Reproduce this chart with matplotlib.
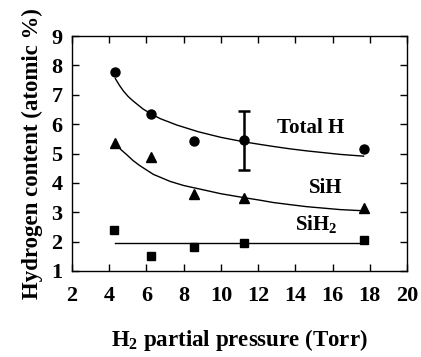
import matplotlib
matplotlib.use("Agg")
import matplotlib.pyplot as plt

plt.rcParams['font.family'] = ['Liberation Serif', 'DejaVu Serif']
plt.rcParams['font.weight'] = 'bold'
plt.rcParams['mathtext.fontset'] = 'custom'
plt.rcParams['mathtext.rm'] = 'Liberation Serif:bold'
plt.rcParams['mathtext.it'] = 'Liberation Serif:bold'

# measured points
p_total = [4.33, 6.25, 8.56, 11.23, 17.66]
total_h = [7.76, 6.36, 5.42, 5.45, 5.16]
total_err = 1.0  # error bar on the 11.2 Torr point

p_sih = [4.33, 6.25, 8.56, 11.23, 17.66]
sih = [5.36, 4.89, 3.63, 3.48, 3.13]

p_sih2 = [4.28, 6.25, 8.56, 11.23, 17.66]
sih2 = [2.39, 1.50, 1.81, 1.96, 2.04]

# fitted curves
fit_total_x = [4.33, 4.55, 4.76, 5.02, 5.30, 5.83, 6.28, 6.73, 7.63, 8.79, 10.0, 11.21,
               12.1, 12.82, 13.7, 14.6, 15.5, 16.4, 17.66]
fit_total = [7.55, 7.32, 7.13, 6.94, 6.78, 6.51, 6.34, 6.19, 5.97, 5.74, 5.55, 5.40,
             5.31, 5.24, 5.16, 5.09, 5.03, 4.97, 4.91]
fit_sih_x = [4.40, 4.65, 4.94, 5.28, 5.66, 6.37, 7.27, 8.0, 8.79, 10.0, 11.21, 12.1,
             12.82, 13.7, 14.6, 15.5, 16.4, 17.66]
fit_sih = [5.29, 5.12, 4.96, 4.76, 4.58, 4.29, 4.05, 3.91, 3.80, 3.63, 3.50, 3.41,
           3.33, 3.26, 3.19, 3.14, 3.09, 3.05]
fit_sih2_x = [4.33, 17.66]
fit_sih2 = [1.95, 1.95]

fig = plt.figure(figsize=(4.21, 3.57), dpi=100)
ax = fig.add_axes([0.171, 0.241, 0.796, 0.658])

ax.plot(fit_total_x, fit_total, color='black', lw=1.0)
ax.plot(fit_sih_x, fit_sih, color='black', lw=1.0)
ax.plot(fit_sih2_x, fit_sih2, color='black', lw=1.0)

ax.plot(p_total, total_h, 'o', color='black', ms=6.5)
ax.errorbar([p_total[3]], [total_h[3]], yerr=total_err, fmt='none',
            ecolor='black', elinewidth=1.8, capsize=4, capthick=1.8)
ax.plot(p_sih, sih, '^', color='black', ms=6.5)
ax.plot(p_sih2, sih2, 's', color='black', ms=5.8)

ax.text(14.8, 5.86, 'Total H', fontsize=15, fontweight='bold', ha='center', va='center')
ax.text(15.6, 3.82, 'SiH', fontsize=15, fontweight='bold', ha='center', va='center')
ax.text(15.1, 2.6, 'SiH$_2$', fontsize=15, fontweight='bold', ha='center', va='center')

ax.set_xlim(2, 20)
ax.set_ylim(1, 9)
ax.set_xticks(range(2, 21, 2))
ax.set_yticks(range(1, 10))
ax.tick_params(direction='in', length=5, width=1, top=True, right=True,
               labelsize=16, pad=7)
ax.tick_params(axis='x', pad=11)
for lab in ax.get_xticklabels() + ax.get_yticklabels():
    lab.set_fontweight('bold')
for s in ax.spines.values():
    s.set_linewidth(1)

ax.set_xlabel('H$_2$ partial pressure (Torr)', fontsize=16.5, fontweight='bold', labelpad=15)
ax.set_ylabel('Hydrogen content (atomic %)', fontsize=16.5, fontweight='bold', labelpad=6)

fig.savefig('out.png', dpi=100)
